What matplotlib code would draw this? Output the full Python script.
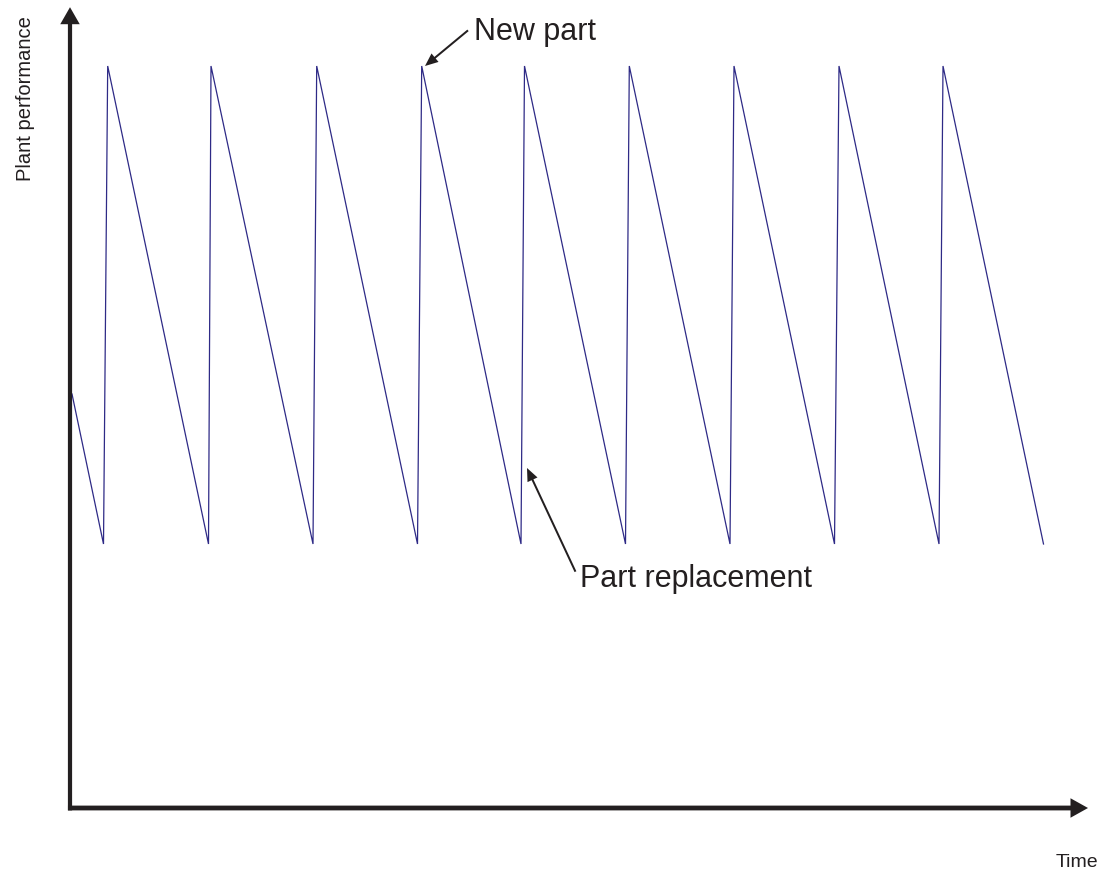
import matplotlib
matplotlib.use("Agg")
import matplotlib.pyplot as plt

# Sawtooth data (time in arbitrary units, performance in arbitrary units)
start_time = 2
start_perf = 414
trough_times = [33.5, 138.5, 243, 347.5, 451, 555.5, 660, 764.5, 869, 973.5]
peak_times = [37.7, 141, 246.7, 351.7, 454.5, 559.3, 664, 769, 873]
trough_perf = 264
peak_perf = 742

x_label = "Time"
y_label = "Plant performance"
note_new = "New part"
note_repl = "Part replacement"

W, H = 1105, 872
ink = "#231f20"
line_col = "#2e2a86"

plt.rcParams['font.family'] = ['Liberation Sans', 'DejaVu Sans']

fig = plt.figure(figsize=(W / 100, H / 100), dpi=100)
ax = fig.add_axes([70 / W, (H - 808) / H, 1018 / W, 800 / H])
ax.set_xlim(0, 1018)
ax.set_ylim(0, 800)
ax.axis('off')

#build the line: start, then trough -> peak for each part
times = [start_time]
perf = [start_perf]
for i, tt in enumerate(trough_times):
    times.append(tt)
    perf.append(trough_perf)
    if i < len(peak_times):
        times.append(peak_times[i])
        perf.append(peak_perf)
ax.plot(times, perf, color=line_col, lw=0.9, solid_joinstyle='miter')

#axis arrows (filled shapes, 1 unit = 10 px)
ax.annotate('', xy=(0, 1.001), xytext=(0, -0.003), xycoords='axes fraction',
            arrowprops=dict(arrowstyle='simple,head_length=1.7,head_width=1.95,tail_width=0.42',
                            lw=0, color=ink, mutation_scale=7.2,
                            shrinkA=0, shrinkB=0))
ax.annotate('', xy=(1.0, 0), xytext=(-0.002, 0), xycoords='axes fraction',
            arrowprops=dict(arrowstyle='simple,head_length=1.75,head_width=1.95,tail_width=0.48',
                            lw=0, color=ink, mutation_scale=7.2,
                            shrinkA=0, shrinkB=0))

#axis labels
fig.text(25.5 / W, 1 - 98.5 / H, y_label, rotation=90, ha='center', va='center',
         fontsize=14.5, color=ink)
fig.text(1077 / W, 1 - 867 / H, x_label, ha='center', va='baseline',
         fontsize=14, color=ink)

#annotations
ann_props = dict(arrowstyle='simple,head_length=1.3,head_width=1.1,tail_width=0.2',
                 lw=0, color=ink, mutation_scale=7.2, shrinkA=3, shrinkB=0,
                 relpos=(0, 0.72))
ax.annotate(note_new, xy=(355, 742), xytext=(474, H - 40),
            textcoords='figure pixels', ha='left', va='baseline',
            fontsize=22, color=ink, arrowprops=ann_props)
ann_props2 = dict(ann_props, relpos=(0, 0.42))
ax.annotate(note_repl, xy=(457, 340), xytext=(580, H - 587),
            textcoords='figure pixels', ha='left', va='baseline',
            fontsize=22, color=ink, arrowprops=ann_props2)

fig.savefig("out.png", dpi=100)
